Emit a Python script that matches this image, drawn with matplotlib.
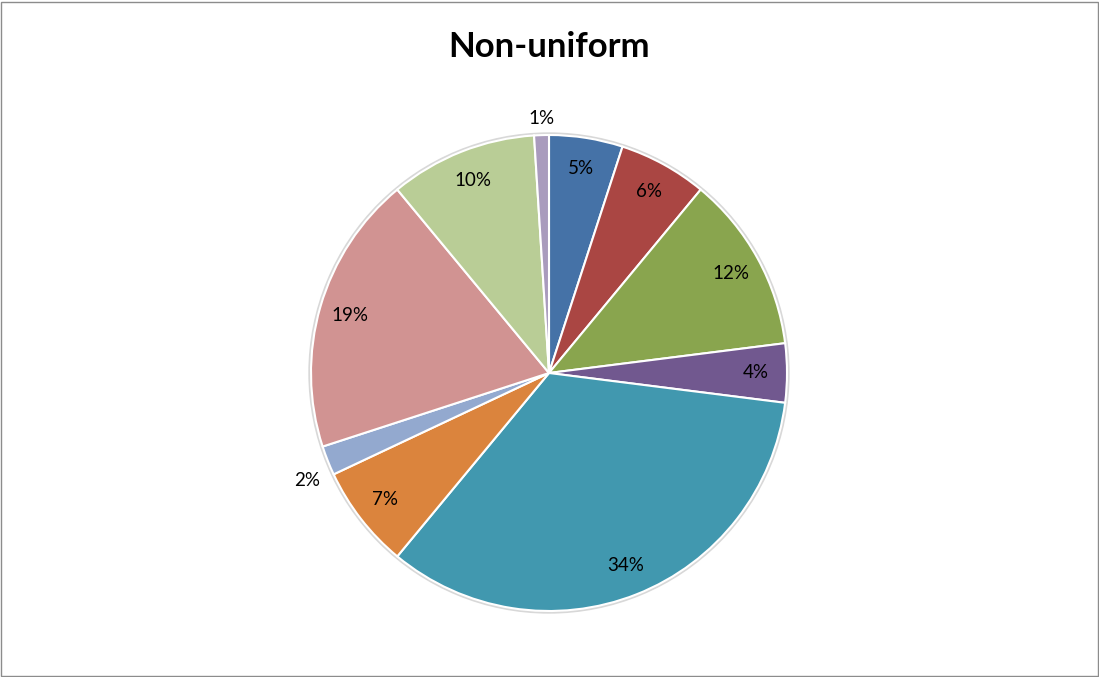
import matplotlib
matplotlib.use("Agg")
import matplotlib.pyplot as plt
import numpy as np
from matplotlib.patches import Rectangle, Circle

values = [5, 6, 12, 4, 34, 7, 2, 19, 10, 1]
labels = ["5%", "6%", "12%", "4%", "34%", "7%", "2%", "19%", "10%", "1%"]
colors = ["#4572A7", "#AA4643", "#89A54E", "#71588F", "#4198AF",
          "#DB843D", "#93A9CF", "#D19392", "#B9CD96", "#A99BBD"]
title = "Non-uniform"

plt.rcParams['font.family'] = ['Lato', 'DejaVu Sans']

W, H = 1099, 677
fig = plt.figure(figsize=(W / 100, H / 100), dpi=100)
fig.patch.set_facecolor("white")
fig.add_artist(Rectangle((1.0 / W, 1.0 / H), 1 - 2.5 / W, 1 - 2.5 / H,
                         transform=fig.transFigure, fill=False,
                         edgecolor="#8c8c8c", linewidth=1.0))

cx, cy, r = 549, 677 - 373, 238
half = 270
ax = fig.add_axes([(cx - half) / W, (cy - half) / H, 2 * half / W, 2 * half / H])
L = half / r
ax.set_aspect("equal")
ax.axis("off")

# soft shadow ring
ax.add_patch(Circle((0, 0), 1.004, facecolor="none", edgecolor="#d8d8d8", linewidth=2.5, zorder=0))

wedges, _ = ax.pie(values, colors=colors, startangle=90, counterclock=False,
                   wedgeprops=dict(edgecolor="white", linewidth=1.5), radius=1,
                   center=(0, 0), frame=False)
ax.set_xlim(-L, L)
ax.set_ylim(-L, L)

for w, lab, v in zip(wedges, labels, values):
    ang = np.deg2rad((w.theta1 + w.theta2) / 2)
    c, s = np.cos(ang), np.sin(ang)
    if v >= 3:
        ax.text(0.87 * c, 0.87 * s, lab, ha="center", va="center",
                fontsize=13.5, color="black")
    else:
        ha = "left" if c > 0.3 else ("right" if c < -0.3 else "center")
        va = "bottom" if s > 0.3 else ("top" if s < -0.3 else "center")
        ax.annotate(lab, (c, s), xytext=(6 * c, 6 * s - (6 if va == "top" else 0)),
                    textcoords="offset points", ha=ha, va=va,
                    fontsize=13.5, color="black")

fig.text(549 / W, 1 - 47 / H, title, ha="center", va="center",
         fontsize=25, fontweight="bold", color="black")

fig.savefig("out.png", dpi=100)
